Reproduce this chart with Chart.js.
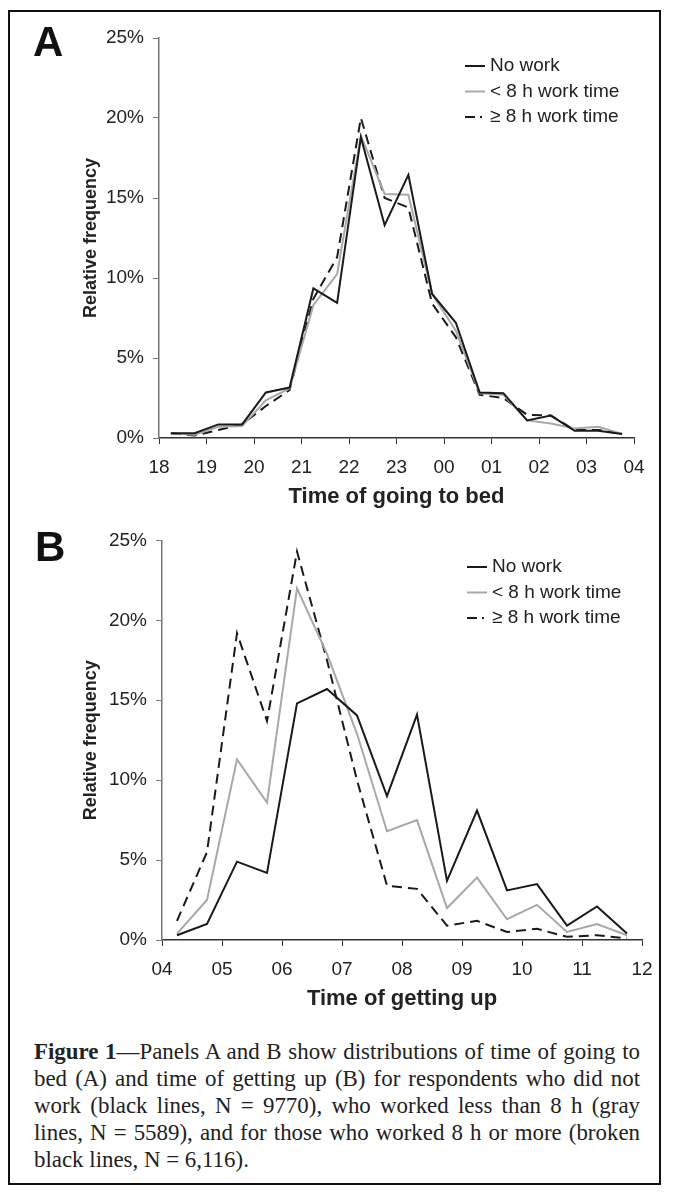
<!DOCTYPE html>
<html>
<head>
<meta charset="utf-8">
<script src="https://cdn.jsdelivr.net/npm/chart.js@4.4.0/dist/chart.umd.min.js"></script>
<style>
  body { margin: 0; background: #fff; }
  #page { position: relative; width: 673px; height: 1195px; overflow: hidden; }
  #frame { position: absolute; left: 8px; top: 10px; width: 653px; height: 1175px; border: 2px solid #111; box-sizing: border-box; }
  .panel { position: absolute; left: 0; }
  .letter { position: absolute; font: bold 42px "Liberation Sans", Arial, sans-serif; line-height: 42px; color: #111; }
  #caption { position: absolute; left: 34px; width: 606px; top: 1038px; font: 22.9px/27px "Liberation Serif", "Times New Roman", serif; color: #222; text-align: justify; }
</style>
</head>
<body>
<div id="page">
  <div id="frame"></div>
  <div class="panel" style="top:0;width:673px;height:520px"><canvas id="chartA"></canvas></div>
  <div class="panel" style="top:520px;width:673px;height:502px"><canvas id="chartB"></canvas></div>
  <div class="letter" style="left:33px;top:21px">A</div>
  <div class="letter" style="left:35px;top:526px">B</div>
  <div id="caption"><b>Figure 1</b>—Panels A and B show distributions of time of going to bed (A) and time of getting up (B) for respondents who did not work (black lines, N = 9770), who worked less than 8 h (gray lines, N = 5589), and for those who worked 8 h or more (broken black lines, N = 6,116).</div>
</div>
<script>
// Panel A: time of going to bed (half-hour bins)
const bedTimes = ['18:15','18:45','19:15','19:45','20:15','20:45','21:15','21:45','22:15','22:45',
                  '23:15','23:45','00:15','00:45','01:15','01:45','02:15','02:45','03:15','03:45'];
const bedTickLabels = ['18','19','20','21','22','23','00','01','02','03','04'];
const bedNoWork = [0.3, 0.3, 0.85, 0.85, 2.85, 3.15, 9.35, 8.45, 18.8, 13.3, 16.45, 9.0, 7.2, 2.85, 2.8, 1.1, 1.4, 0.45, 0.45, 0.25];
const bedLess8  = [0.3, 0.2, 0.7, 0.75, 2.35, 3.1, 8.3, 10.25, 18.9, 15.25, 15.2, 9.0, 6.7, 2.8, 2.7, 1.1, 0.9, 0.6, 0.7, 0.25];
const bedMore8  = [0.3, 0.15, 0.5, 0.85, 2.0, 3.0, 8.7, 11.3, 20.0, 15.0, 14.4, 8.4, 6.3, 2.7, 2.5, 1.45, 1.4, 0.5, 0.5, 0.25];

// Panel B: time of getting up (half-hour bins)
const upTimes = ['04:15','04:45','05:15','05:45','06:15','06:45','07:15','07:45',
                 '08:15','08:45','09:15','09:45','10:15','10:45','11:15','11:45'];
const upTickLabels = ['04','05','06','07','08','09','10','11','12'];
const upNoWork = [0.3, 1.0, 4.9, 4.2, 14.8, 15.7, 14.05, 9.0, 14.1, 3.7, 8.1, 3.1, 3.5, 0.9, 2.1, 0.4];
const upLess8  = [0.4, 2.5, 11.3, 8.6, 22.0, 17.9, 12.9, 6.8, 7.5, 2.0, 3.9, 1.3, 2.2, 0.5, 1.0, 0.3];
const upMore8  = [1.2, 5.5, 19.2, 13.7, 24.3, 17.5, 10.0, 3.4, 3.2, 0.9, 1.2, 0.5, 0.7, 0.2, 0.3, 0.1];

const seriesLabels = ['No work', '< 8 h work time', '\u2265 8 h work time'];

const SANS = '"Liberation Sans", Arial, sans-serif';

// hours elapsed since the first tick
function hoursFrom(t, startHour) {
    const [h, m] = t.split(':').map(Number);
    return ((h - startHour + 24) % 24) + m / 60;
}

function points(times, values, startHour) {
    return times.map((t, i) => ({ x: hoursFrom(t, startHour), y: values[i] }));
}

// legend drawn inside the plot area, top right
const insideLegend = {
    id: 'insideLegend',
    afterDraw(chart, args, opts) {
        const ctx = chart.ctx;
        ctx.save();
        ctx.font = '19px ' + SANS;
        ctx.textBaseline = 'middle';
        chart.data.datasets.forEach((ds, i) => {
            const y = opts.y + i * opts.rowGap;
            ctx.strokeStyle = ds.borderColor;
            ctx.lineWidth = 2;
            ctx.setLineDash(i === 2 ? [10, 5, 2, 20] : []);
            ctx.beginPath();
            ctx.moveTo(opts.x, y);
            ctx.lineTo(opts.x + 20, y);
            ctx.stroke();
            ctx.fillStyle = '#222';
            ctx.fillText(ds.label, opts.x + 25, y);
        });
        ctx.restore();
    }
};

function makeChart(id, cfg) {
    const datasets = [
        { label: seriesLabels[0], data: points(cfg.times, cfg.noWork, cfg.start), borderColor: '#1a1a1a', borderWidth: 2 },
        { label: seriesLabels[1], data: points(cfg.times, cfg.less8, cfg.start), borderColor: '#a8a8a8', borderWidth: 2 },
        { label: seriesLabels[2], data: points(cfg.times, cfg.more8, cfg.start), borderColor: '#1a1a1a', borderWidth: 2, borderDash: [10, 6] }
    ];
    return new Chart(document.getElementById(id), {
        type: 'line',
        data: { datasets: datasets },
        plugins: [insideLegend],
        options: {
            responsive: true,
            maintainAspectRatio: false,
            animation: false,
            elements: { point: { radius: 0 }, line: { tension: 0 } },
            layout: { padding: cfg.padding },
            plugins: {
                legend: { display: false },
                tooltip: { enabled: false },
                insideLegend: cfg.legend
            },
            scales: {
                x: {
                    type: 'linear',
                    min: 0,
                    max: cfg.tickLabels.length - 1,
                    afterFit: (s) => { s.height = 82; },
                    border: { color: '#333', width: 1.5 },
                    grid: { drawOnChartArea: false, tickLength: 6, color: '#333' },
                    ticks: {
                        stepSize: 1,
                        padding: 12,
                        color: '#222',
                        font: { family: SANS, size: 19 },
                        callback: (v) => cfg.tickLabels[v]
                    },
                    title: {
                        display: true,
                        text: cfg.xTitle,
                        color: '#222',
                        font: { family: SANS, size: 22, weight: 'bold' },
                        padding: { top: 0, bottom: 10 }
                    }
                },
                y: {
                    min: 0,
                    max: 25,
                    afterFit: (s) => { s.width = cfg.yWidth; },
                    border: { color: '#777', width: 1.5 },
                    grid: { drawOnChartArea: false, tickLength: 6, color: '#777' },
                    ticks: {
                        stepSize: 5,
                        padding: 9,
                        color: '#222',
                        font: { family: SANS, size: 19 },
                        callback: (v) => v + '%'
                    },
                    title: {
                        display: true,
                        text: 'Relative frequency',
                        color: '#222',
                        font: { family: SANS, size: 18, weight: 'bold' },
                        padding: { top: 80, bottom: 0 }
                    }
                }
            }
        }
    });
}

makeChart('chartA', {
    times: bedTimes, noWork: bedNoWork, less8: bedLess8, more8: bedMore8, start: 18,
    tickLabels: bedTickLabels, xTitle: 'Time of going to bed',
    yWidth: 159,
    padding: { left: 0, right: 39, top: 38, bottom: 0 },
    legend: { x: 465, y: 66, rowGap: 25.5 }
});

makeChart('chartB', {
    times: upTimes, noWork: upNoWork, less8: upLess8, more8: upMore8, start: 4,
    tickLabels: upTickLabels, xTitle: 'Time of getting up',
    yWidth: 162,
    padding: { left: 0, right: 31, top: 20, bottom: 0 },
    legend: { x: 467, y: 47, rowGap: 25.5 }
});
</script>
</body>
</html>
